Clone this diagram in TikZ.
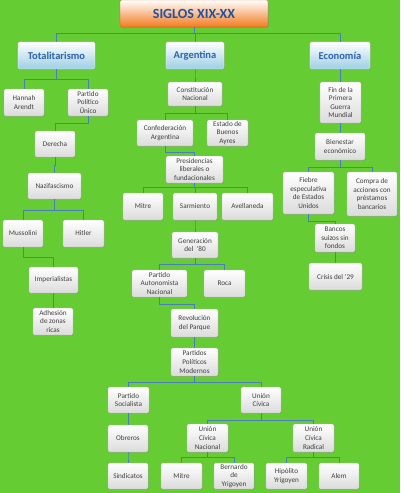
\documentclass[tikz,border=0pt]{standalone}
\usepackage{fontspec}
\setmainfont{Carlito}
\usepackage{xcolor}
\usetikzlibrary{shadows}

\definecolor{bggreen}{HTML}{66CC33}
\definecolor{linkblue}{HTML}{4A7EBB}
\definecolor{titleblue}{HTML}{24519C}
\definecolor{headblue}{HTML}{2E62B0}
\definecolor{textgray}{HTML}{404040}
\definecolor{orangebot}{HTML}{F37A1F}
\definecolor{bluebot}{HTML}{9CCFE4}

\begin{document}
\begin{tikzpicture}[x=1pt, y=-1pt,
    BOX/.style  = {draw=gray!55, line width=.3pt, rounded corners=1.5pt,
                   top color=white, bottom color=gray!28,
                   drop shadow={opacity=.35, shadow xshift=.8pt, shadow yshift=-.8pt},
                   align=center, inner sep=1pt, text=textgray,
                   font=\fontsize{7.2}{8.6}\selectfont,
                   minimum width=40pt, minimum height=27pt},
    HEAD/.style = {BOX, top color=white, bottom color=bluebot, draw=white,
                   text=headblue, font=\fontsize{10.5}{12}\selectfont\bfseries},
    TOP/.style  = {BOX, top color=white, bottom color=orangebot, draw=orangebot!80!black,
                   text=titleblue, font=\fontsize{14}{16}\selectfont\bfseries},
    LN/.style   = {draw=linkblue, line width=1pt} ]

\fill[bggreen] (0,0) rectangle (400,493);
\useasboundingbox (0,0) rectangle (400,493);

% title and the three branches
\node[TOP, minimum width=148pt] (title) at (194,13.5) {SIGLOS XIX-XX};
\node[HEAD, minimum width=77pt] (tot) at (56.5,55.5) {Totalitarismo};
\node[HEAD, minimum width=58pt] (arg) at (195,55.5)  {Argentina};
\node[HEAD, minimum width=60pt] (eco) at (340,55.5)  {Economía};

% Totalitarismo
\node[BOX] (hannah) at (24,102.5) {Hannah\\Arendt};
\node[BOX] (ppu)    at (88,102.5) {Partido\\Político\\Único};
\node[BOX, minimum height=26pt] (derecha) at (55,144) {Derecha};
\node[BOX, minimum width=53pt, minimum height=26pt] (nazi) at (54.5,186) {Nazifascismo};
\node[BOX] (mussolini) at (23,233.5) {Mussolini};
\node[BOX, minimum width=41pt] (hitler) at (83.5,233.5) {Hitler};
\node[BOX, minimum width=49pt, minimum height=26pt] (imper) at (53.5,280) {Imperialistas};
\node[BOX] (adhesion) at (53,321.5) {Adhesión\\de zonas\\ricas};

% Argentina
\node[BOX, minimum width=54pt, minimum height=24pt] (const) at (195,94) {Constitución\\Nacional};
\node[BOX, minimum width=56pt, minimum height=26pt] (confed) at (165,133) {Confederación\\Argentina};
\node[BOX, minimum width=41pt, minimum height=26pt] (estado) at (227.5,133) {Estado de\\Buenos\\Ayres};
\node[BOX, minimum width=57pt] (presid) at (194.5,169.5) {Presidencias\\liberales o\\fundacionales};
\node[BOX] (mitre) at (143,206.5) {Mitre};
\node[BOX, minimum width=44pt] (sarm) at (195,206.5) {Sarmiento};
\node[BOX, minimum width=51pt] (avell) at (247.5,206.5) {Avellaneda};
\node[BOX, minimum width=46pt, minimum height=26pt] (gen) at (195,245) {Generación\\del~~'80};
\node[BOX, minimum width=55pt] (pan) at (159.5,283.5) {Partido\\Autonomista\\Nacional};
\node[BOX, minimum width=41pt] (roca) at (224.5,283.5) {Roca};
\node[BOX, minimum width=47pt, minimum height=28pt] (revol) at (194.5,323) {Revolución\\del Parque};
\node[BOX, minimum width=47pt, minimum height=28pt] (ppm) at (194.5,362) {Partidos\\Políticos\\Modernos};
\node[BOX, minimum width=41pt, minimum height=26pt] (ps) at (128.5,400) {Partido\\Socialista};
\node[BOX, minimum height=26pt] (uc) at (261,400) {Unión\\Cívica};
\node[BOX] (obreros) at (128,438.5) {Obreros};
\node[BOX, minimum height=26pt] (sind) at (128,476) {Sindicatos};
\node[BOX, minimum width=41pt, minimum height=28pt] (ucn) at (207.5,438) {Unión\\Cívica\\Nacional};
\node[BOX, minimum width=41pt, minimum height=28pt] (ucr) at (313.5,438) {Unión\\Cívica\\Radical};
\node[BOX, minimum width=41pt, minimum height=26pt] (mitreb) at (181.5,476) {Mitre};
\node[BOX, minimum height=26pt] (bernardo) at (234,476) {Bernardo\\de\\Yrigoyen};
\node[BOX, minimum width=41pt, minimum height=26pt] (hipolito) at (286.5,476) {Hipólito\\Yrigoyen};
\node[BOX, minimum height=26pt] (alem) at (339,476) {Alem};

% Economia
\node[BOX, minimum width=41pt, minimum height=41pt] (fin) at (340.5,102.5) {Fin de la\\Primera\\Guerra\\Mundial};
\node[BOX, minimum width=50pt] (bien) at (340,146.5) {Bienestar\\económico};
\node[BOX, minimum width=51pt, minimum height=42pt] (fiebre) at (308.5,193) {Fiebre\\especulativa\\de Estados\\Unidos};
\node[BOX, minimum width=50pt, minimum height=44pt] (compra) at (372,194) {Compra de\\acciones con\\préstamos\\bancarios};
\node[BOX, minimum height=28pt] (bancos) at (335,238) {Bancos\\suizos sin\\fondos};
\node[BOX, minimum width=53pt] (crisis) at (335.5,276.5) {Crisis del '29};

% connectors: parent / child / height of the bend
\foreach \p/\c/\y in {title/tot/33, title/arg/33, title/eco/33,
      tot/hannah/79, tot/ppu/79, ppu/derecha/123, derecha/nazi/165,
      nazi/mussolini/210, nazi/hitler/210, mussolini/imper/257, imper/adhesion/300,
      arg/const/75, const/confed/113, const/estado/113, confed/presid/152,
      presid/mitre/187, presid/sarm/187, presid/avell/187, sarm/gen/226,
      gen/pan/264, gen/roca/264, pan/revol/304, revol/ppm/342,
      ppm/ps/382, ppm/uc/382, ps/obreros/419, obreros/sind/457,
      uc/ucn/420, uc/ucr/420, ucn/mitreb/457, ucn/bernardo/457,
      ucr/hipolito/457, ucr/alem/457,
      eco/fin/75, fin/bien/128, bien/fiebre/167, bien/compra/167,
      fiebre/bancos/221, bancos/crisis/257}
  \draw[LN] (\p.south) -- (\p.south |- 0,\y) -| (\c.north);
\end{tikzpicture}
\end{document}
